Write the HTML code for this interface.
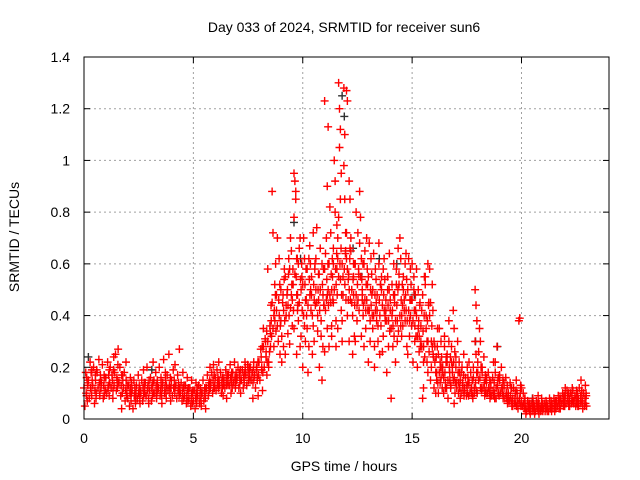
<!DOCTYPE html>
<html><head><meta charset="utf-8"><style>
html,body{margin:0;padding:0;background:#fff}
svg{display:block;font-family:"Liberation Sans",sans-serif}
</style></head><body>
<svg id="chart" width="640" height="480">
<rect width="640" height="480" fill="#fff"/>
<g id="grid"></g>
<g id="marks-black"></g>
<g id="marks"></g>
<rect x="84" y="57" width="525" height="362" fill="none" stroke="#000" stroke-width="1"/>
<g id="ticks"></g>
<text x="344" y="32" text-anchor="middle" font-size="14">Day 033 of 2024, SRMTID for receiver sun6</text>
<text x="344" y="471" text-anchor="middle" font-size="14">GPS time / hours</text>
<text transform="translate(19,237) rotate(-90)" text-anchor="middle" font-size="14">SRMTID / TECUs</text>
</svg>
<script>
const xTicks=[0,5,10,15,20];
const yTicks=[0,0.2,0.4,0.6,0.8,1,1.2,1.4];
const yTickLabels=["0","0.2","0.4","0.6","0.8","1","1.2","1.4"];
const bucketTimes=[0,0.2,0.4,0.6,0.8,1,1.2,1.4,1.6,1.8,2,2.2,2.4,2.6,2.8,3,3.2,3.4,3.6,3.8,4,4.2,4.4,4.6,4.8,5,5.2,5.4,5.6,5.8,6,6.2,6.4,6.6,6.8,7,7.2,7.4,7.6,7.8,8,8.2,8.4,8.6,8.8,9,9.2,9.4,9.6,9.8,10,10.2,10.4,10.6,10.8,11,11.2,11.4,11.6,11.8,12,12.2,12.4,12.6,12.8,13,13.2,13.4,13.6,13.8,14,14.2,14.4,14.6,14.8,15,15.2,15.4,15.6,15.8,16,16.2,16.4,16.6,16.8,17,17.2,17.4,17.6,17.8,18,18.2,18.4,18.6,18.8,19,19.2,19.4,19.6,19.8,20,20.2,20.4,20.6,20.8,21,21.2,21.4,21.6,21.8,22,22.2,22.4,22.6,22.8];
const bucketValues=[
[.12,.05,.18,.09,.14],[.15,.08,.22,.11,.19],[.13,.20,.06,.17,.10],[.18,.12,.23,.09,.15],[.14,.21,.08,.17,.11],
[.16,.10,.22,.13,.19],[.20,.12,.17,.08,.24],[.18,.25,.11,.15,.27],[.14,.20,.09,.04,.17],[.12,.18,.07,.22,.10],
[.08,.13,.05,.16,.10],[.11,.04,.15,.09,.07],[.13,.08,.17,.11,.06],[.10,.15,.07,.19,.12],[.14,.09,.20,.12,.06],
[.11,.16,.07,.13,.22],[.15,.10,.18,.08,.13],[.12,.20,.09,.16,.06],[.14,.23,.10,.18,.08],[.17,.11,.25,.13,.07],
[.15,.09,.19,.12,.21],[.13,.08,.17,.11,.27],[.10,.14,.07,.18,.12],[.09,.13,.06,.16,.11],[.08,.12,.05,.15,.10],
[.07,.11,.04,.14,.09],[.09,.13,.06,.12,.05],[.10,.15,.07,.12,.04],[.12,.17,.09,.14,.20],[.14,.18,.10,.21,.12],
[.16,.11,.19,.13,.22],[.13,.18,.10,.16,.09],[.15,.12,.19,.08,.17],[.17,.13,.21,.10,.15],[.18,.14,.22,.12,.16],
[.16,.20,.12,.18,.10],[.15,.19,.12,.17,.22],[.17,.13,.21,.15,.19],[.20,.15,.18,.08,.22],[.17,.12,.20,.16,.09],
[.22,.15,.27,.19,.11],[.28,.20,.31,.24,.17,.35],[.30,.22,.26,.33,.38,.58,.20],[.45,.35,.28,.52,.60,.88,.72,.40],[.48,.36,.30,.62,.25,.42,.70],
[.50,.32,.45,.28,.58,.38,.22],[.55,.40,.48,.33,.62,.25,.44],[.58,.43,.65,.36,.52,.29,.70,.48],[.78,.92,.85,.62,.48,.35,.56,.88,.25,.42,.95],[.60,.45,.70,.32,.55,.38,.66,.28],
[.52,.40,.62,.30,.46,.20,.70,.36],[.58,.44,.28,.67,.50,.35,.18,.62],[.55,.40,.72,.30,.60,.48,.25,.36],[.62,.45,.34,.56,.20,.50,.74,.40],[.50,.38,.60,.28,.44,.66,.32,.15],
[.58,.42,.70,.35,.50,.26,.64,.46,.90,1.13,1.23],[.60,.48,.72,.36,.55,.28,.82,.45,.32],[.66,.50,.80,.38,.58,.45,1.00,.92,.28,.75,.60],[.70,.55,1.05,.85,.42,.62,1.30,1.20,1.12,.95,.35,.78],[.60,.48,.98,1.10,.72,.38,.55,1.28,.85,.65,.30],
[.72,.58,.46,.92,.85,.62,.40,.54,.30,.66,1.27,1.23],[.65,.50,.40,.60,.32,.70,.45,.25,.55],[.60,.48,.38,.72,.56,.30,.80,.44],[.88,.78,.62,.50,.40,.68,.55,.32,.46],[.60,.46,.35,.70,.52,.28,.65,.42],
[.55,.42,.30,.62,.48,.22,.68,.38],[.50,.40,.28,.58,.45,.35,.64,.20],[.48,.36,.60,.25,.52,.42,.30,.68],[.55,.44,.32,.62,.40,.50,.26,.58],[.46,.38,.55,.28,.64,.42,.18,.50],
[.42,.35,.52,.28,.60,.46,.08,.40],[.48,.38,.58,.30,.66,.45,.22,.52],[.52,.40,.62,.32,.44,.56,.70,.36],[.55,.46,.38,.64,.28,.50,.42,.60],[.50,.42,.32,.58,.46,.25,.62,.38],
[.46,.38,.55,.30,.42,.60,.22,.50],[.40,.32,.50,.26,.45,.58,.20,.35],[.36,.28,.48,.22,.55,.30,.42,.08,.12],[.52,.40,.30,.60,.45,.55,.35,.22,.18],[.58,.45,.30,.52,.25,.40,.15,.20],
[.30,.22,.18,.15,.35,.12,.28,.10],[.25,.18,.14,.30,.20,.10,.35,.22],[.20,.16,.28,.12,.24,.18,.10,.32],[.22,.15,.30,.18,.12,.25,.08,.38],[.28,.20,.15,.35,.10,.22,.18,.42,.06],
[.20,.14,.30,.10,.18,.24,.12],[.15,.10,.20,.13,.25,.08,.18],[.12,.16,.09,.20,.14,.11],[.14,.10,.18,.12,.09,.22],[.16,.12,.50,.44,.38,.20,.10,.30,.25],
[.22,.15,.35,.30,.12,.18,.26],[.18,.12,.24,.09,.15,.20],[.14,.10,.18,.12,.08,.16],[.12,.09,.16,.22,.10,.14],[.18,.12,.28,.15,.10,.22,.08],
[.15,.10,.20,.12,.08,.17],[.12,.08,.16,.10,.06,.14],[.10,.07,.14,.12,.05,.09],[.08,.12,.06,.10,.15,.05],[.10,.06,.38,.39,.13,.08,.04],
[.07,.05,.10,.04,.08,.12],[.05,.03,.07,.04,.06,.02],[.04,.06,.03,.08,.05,.02],[.05,.03,.07,.04,.09,.02],[.06,.04,.03,.08,.05,.02],
[.04,.06,.03,.07,.05],[.05,.03,.08,.04,.06],[.06,.04,.08,.03,.05],[.07,.05,.09,.04,.06],[.08,.06,.10,.05,.07],
[.09,.06,.11,.07,.05,.12],[.08,.10,.06,.12,.07,.05],[.07,.09,.05,.11,.08,.06],[.08,.12,.06,.15,.10,.05],[.07,.10,.05,.13,.09,.04]
];
const bucketValues2=[
[.10,.16,.07,.13],[.12,.18,.09,.15],[.11,.15,.08,.19],[.14,.10,.17,.12],[.13,.09,.16,.11],
[.12,.17,.09,.14],[.15,.11,.19,.13],[.16,.12,.21,.14],[.13,.17,.10,.15],[.11,.15,.09,.13],
[.10,.12,.07,.14],[.09,.12,.06,.10],[.10,.13,.08,.11],[.12,.09,.14,.10],[.11,.13,.08,.15],
[.12,.09,.14,.10],[.13,.10,.15,.11],[.11,.14,.09,.12],[.12,.15,.10,.13],[.13,.10,.16,.12],
[.12,.15,.10,.13],[.11,.14,.09,.12],[.10,.12,.08,.13],[.09,.11,.07,.12],[.08,.10,.06,.11],
[.08,.10,.06,.12],[.09,.11,.07,.10],[.10,.12,.08,.11],[.13,.11,.15,.12],[.15,.12,.17,.13],
[.14,.16,.12,.15],[.14,.12,.16,.13],[.15,.13,.17,.14],[.16,.14,.18,.12],[.16,.13,.18,.15],
[.17,.14,.19,.15],[.16,.14,.18,.20],[.18,.15,.20,.16],[.18,.14,.20,.16],[.19,.15,.22,.17],
[.24,.20,.28,.18],[.30,.26,.34,.22],[.36,.28,.44,.32],[.42,.38,.48,.34],[.46,.40,.52,.36],
[.48,.42,.54,.38],[.50,.44,.56,.40],[.52,.46,.58,.42],[.55,.48,.62,.44],[.54,.50,.60,.42],
[.52,.46,.58,.40],[.54,.48,.60,.42],[.52,.46,.58,.44],[.50,.46,.56,.42],[.52,.48,.58,.44],
[.54,.48,.60,.44],[.56,.50,.62,.46],[.58,.52,.64,.48],[.60,.54,.66,.48],[.58,.52,.64,.46],
[.56,.50,.62,.46],[.54,.48,.60,.44],[.52,.46,.58,.42],[.54,.48,.60,.44],[.52,.46,.58,.42],
[.50,.44,.56,.40],[.48,.42,.54,.38],[.46,.40,.52,.36],[.48,.42,.54,.38],[.44,.38,.50,.34],
[.42,.36,.48,.32],[.44,.38,.50,.34],[.46,.40,.52,.36],[.48,.42,.54,.38],[.46,.40,.52,.36],
[.42,.36,.48,.32],[.38,.32,.44,.28],[.34,.28,.40,.24],[.38,.30,.44,.26],[.36,.28,.42,.24],
[.24,.18,.28,.14],[.20,.16,.24,.12],[.18,.14,.22,.12],[.20,.15,.24,.13],[.22,.16,.26,.14],
[.18,.14,.22,.12],[.14,.11,.17,.09],[.13,.10,.16,.09],[.12,.10,.15,.08],[.14,.11,.18,.10],
[.16,.12,.20,.11],[.14,.11,.17,.10],[.12,.10,.15,.09],[.11,.09,.14,.08],[.13,.10,.16,.09],
[.12,.10,.15,.09],[.10,.08,.13,.07],[.09,.07,.12,.06],[.08,.06,.11,.05],[.08,.06,.10,.05],
[.06,.05,.08,.04],[.05,.04,.06,.03],[.05,.04,.06,.03],[.05,.04,.06,.03],[.05,.04,.06,.03],
[.05,.04,.06,.03],[.05,.04,.07,.03],[.06,.05,.07,.04],[.07,.05,.08,.04],[.08,.06,.09,.05],
[.09,.07,.10,.06],[.09,.07,.11,.06],[.08,.06,.10,.05],[.09,.07,.11,.06],[.08,.06,.10,.05]
];
const blackTimes=[0.2,3.1,9.6,9.9,11.8,11.9,12.3,12.7,13.5,14.3,15.1,17.9,18.9,20.5];
const blackValues=[0.24,0.19,0.76,0.62,1.25,1.17,0.66,0.55,0.62,0.60,0.48,0.30,0.28,0.08];

const NS="http://www.w3.org/2000/svg";
const X0=84,X1=609,Y0=419,Y1=57,XMAX=24,YMAX=1.4;
function xs(t){return X0+(X1-X0)*t/XMAX;}
function ys(v){return Y0-(Y0-Y1)*v/YMAX;}
function mk(tag,attrs,parent){const e=document.createElementNS(NS,tag);for(const k in attrs)e.setAttribute(k,attrs[k]);parent.appendChild(e);return e;}
const grid=document.getElementById('grid'),ticks=document.getElementById('ticks');
xTicks.forEach((t,i)=>{
  const x=xs(t);
  if(i>0){const g=mk('line',{x1:x,x2:x,y1:Y1,y2:Y0,stroke:'#a0a0a0','stroke-dasharray':'2,3'},grid);
    
    }
  mk('line',{x1:x,x2:x,y1:Y0,y2:Y0-6,stroke:'#000'},ticks);
  mk('line',{x1:x,x2:x,y1:Y1,y2:Y1+6,stroke:'#000'},ticks);
  const l=mk('text',{x:x,y:Y0+24,'text-anchor':'middle','font-size':'14'},ticks);
  l.textContent=String(t);
  
  
});
yTicks.forEach((v,i)=>{
  const y=ys(v);
  if(i>0&&i<yTicks.length-1){const g=mk('line',{x1:X0,x2:X1,y1:y,y2:y,stroke:'#a0a0a0','stroke-dasharray':'2,3'},grid);
    
    }
  mk('line',{x1:X0,x2:X0+6,y1:y,y2:y,stroke:'#000'},ticks);
  mk('line',{x1:X1,x2:X1-6,y1:y,y2:y,stroke:'#000'},ticks);
  const l=mk('text',{x:X0-14,y:y+5,'text-anchor':'end','font-size':'14'},ticks);
  l.textContent=yTickLabels[i];
  
  
});
function plus(parent,t,v,color,name){
  const x=xs(t),y=ys(v);
  const p=mk('path',{d:`M${x-4} ${y}H${x+4}M${x} ${y-4}V${y+4}`,stroke:color,'stroke-width':'1.4',fill:'none'},parent);
  
  
}
const bg=document.getElementById('marks-black');
blackTimes.forEach((t,i)=>plus(bg,t,blackValues[i],'#303030','black-point'));
const rg=document.getElementById('marks');
bucketTimes.forEach((t,i)=>{
  bucketValues[i].forEach((v,j)=>{
    plus(rg,t+(j%5)*0.04,v,'#ff0000','red-point');
  });
  bucketValues2[i].forEach((v,j)=>{
    plus(rg,t+0.1+(j%4)*0.025,v,'#ff0000','red-point');
  });
});
</script>
</body></html>
